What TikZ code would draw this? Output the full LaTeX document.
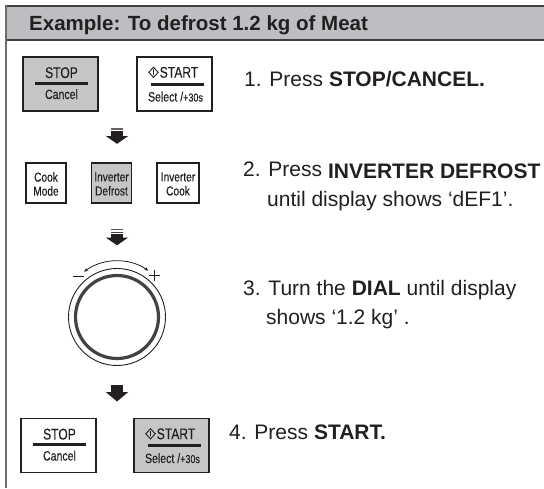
\documentclass[tikz,border=0pt]{standalone}
\usepackage{fontspec}
\setmainfont{Liberation Sans}
\newfontfamily\btnfont[FakeStretch=0.78,FakeBold=0.25]{Liberation Sans}
\usetikzlibrary{calc,arrows.meta}
\definecolor{hdrgray}{HTML}{BCBEC1}
\definecolor{btngray}{HTML}{C6C6C6}
\definecolor{ink}{HTML}{231F20}
\definecolor{framegray}{HTML}{6E6E6E}
\tikzset{
  btnbox/.style={draw=ink, line width=1.4pt, minimum width=75pt, minimum height=54pt, inner sep=0pt},
  smallbox/.style={draw=ink, line width=1.1pt, minimum width=40pt, minimum height=40pt, inner sep=0pt},
  btnbig/.style={inner sep=0pt, anchor=base, text=ink, font=\btnfont\fontsize{15.5}{17}\selectfont},
  btnsmall/.style={inner sep=0pt, anchor=base, text=ink, font=\btnfont\fontsize{13.5}{15}\selectfont},
  btntwo/.style={inner sep=0pt, align=center, text=ink, font=\btnfont\fontsize{13}{14}\selectfont},
  barline/.style={line width=3pt, ink},
  steptext/.style={inner sep=0pt, anchor=base west, text=ink, font=\fontsize{21}{25}\selectfont},
  downhead/.style={fill=ink, draw=none},
}
\newcommand\stopbutton[4]{%
  \node[btnbox, fill=#4] (#1) at (#2,#3) {};
  \node[btnbig] (#1-top) at ($(#1.center)+(1,-6)$) {STOP};
  \draw[barline] ($(#1.center)+(-26,-1)$) -- ($(#1.center)+(27,-1)$);
  \node[btnsmall] (#1-bot) at ($(#1.center)+(1,15)$) {Cancel};
}
\newcommand\startbutton[4]{%
  \node[btnbox, fill=#4] (#1) at (#2,#3) {};
  \node[btnbig] (#1-top) at ($(#1.center)+(4.5,-6.3)$) {START};
  \draw[ink, line width=0.9pt] ($(#1.center)+(-21,-16.8)$) -- ($(#1.center)+(-16.3,-11.7)$) -- ($(#1.center)+(-21,-6.6)$) -- ($(#1.center)+(-25.7,-11.7)$) -- cycle;
  \draw[ink, line width=0.9pt] ($(#1.center)+(-21,-14.7)$) -- ($(#1.center)+(-21,-9.5)$);
  \draw[barline] ($(#1.center)+(-24,0)$) -- ($(#1.center)+(29,0)$);
  \node[btnsmall] (#1-bot) at ($(#1.center)+(1,17.5)$) {Select /{\fontsize{11.5}{12}\selectfont+30s}};
}
\begin{document}
\begin{tikzpicture}[x=1pt,y=-1pt]
\useasboundingbox (0,0) rectangle (544,488);
\fill[white] (0,0) rectangle (544,488);
% header band
\fill[hdrgray] (6,6) rectangle (544,40);
\draw[line width=1.6pt, black!75] (6,6) -- (544,6);
\draw[line width=1.6pt, black!75] (6,40) -- (544,40);
\draw[line width=2pt, framegray] (6,5.2) -- (6,488);
\node[inner sep=0pt, anchor=base west, text=ink, font=\bfseries\fontsize{20.5}{24}\selectfont] (title) at (29,30) {Example: To defrost 1.2 kg of Meat};

% step 1
\stopbutton{stopA}{60.5}{84}{btngray}
\startbutton{startA}{174.5}{84}{white}
\node[steptext] (s1) at (244,86) {1. Press \textbf{STOP/CANCEL.}};

% arrow 1
\fill[ink!70] (111,128) rectangle (123,129.6);
\fill[ink] (111,130.6) rectangle (123,136.5);
\fill[downhead] (106,136.2) -- (128,136.2) -- (117,143.8) -- cycle;

% step 2
\node[smallbox, fill=white] (cook) at (46,183) {};
\node[smallbox, fill=btngray] (invdef) at (111.5,183) {};
\node[smallbox, fill=white, minimum width=42pt] (invcook) at (178,183) {};
\node[btntwo] (cookT) at ($(cook.center)+(0,1)$) {Cook\\Mode};
\node[btntwo] (invdefT) at ($(invdef.center)+(0,1)$) {Inverter\\Defrost};
\node[btntwo] (invcookT) at ($(invcook.center)+(0,1)$) {Inverter\\Cook};
\node[steptext] (s2) at (243,176) {2. Press \raisebox{-2pt}{\textbf{INVERTER DEFROST}}};
\node[steptext] (s2b) at (267,206) {until display shows ‘dEF1’.};

% arrow 2
\fill[ink!75] (111,229) rectangle (123,230.4);
\fill[ink!85] (111,231.6) rectangle (123,233);
\fill[ink] (111,234.2) rectangle (123,238);
\fill[downhead] (106,237.7) -- (128,237.7) -- (117,245.3) -- cycle;

% dial
\coordinate (dialc) at (117,317);
\draw[ink, line width=0.9pt] (dialc) circle[radius=48.5];
\draw[ink!85, line width=3.2pt] (dialc) circle[radius=41.5];
\draw[ink, line width=0.8pt, {Stealth[length=4pt,width=3.5pt]}-{Stealth[length=4pt,width=3.5pt]}]
  ($(dialc)+(-126:56)$) arc[start angle=-126, end angle=-56, radius=56];
\coordinate (minusL) at (73,276);
\coordinate (minusR) at (84,276);
\draw[ink, line width=1pt] (minusL) -- (minusR);
\coordinate (plusc) at (154,275.5);
\draw[ink, line width=1pt] ($(plusc)+(-5.5,0)$) -- ($(plusc)+(5.5,0)$);
\draw[ink, line width=1pt] ($(plusc)+(0,-5.5)$) -- ($(plusc)+(0,5.5)$);
\node[steptext] (s3) at (243,295) {3. Turn the \textbf{DIAL} until display};
\node[steptext] (s3b) at (266,324) {shows ‘1.2 kg’ .};

% arrow 3
\fill[ink] (111,385) rectangle (123,392.5);
\fill[downhead] (106,392.2) -- (128,392.2) -- (117,401.5) -- cycle;

% step 4
\stopbutton{stopB}{58.5}{445.5}{white}
\startbutton{startB}{171.5}{445.5}{btngray}
\node[steptext] (s4) at (229,439) {4. Press \textbf{START.}};
\end{tikzpicture}
\end{document}
